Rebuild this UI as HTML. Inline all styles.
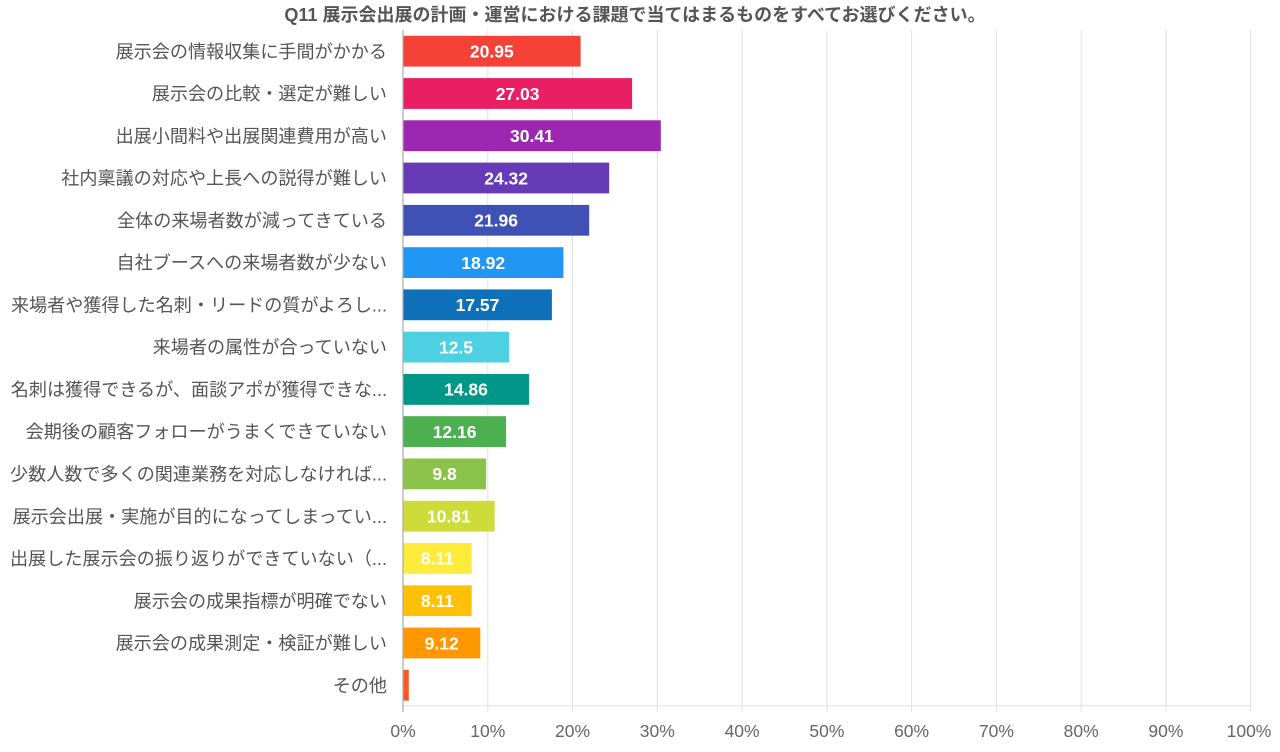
<!DOCTYPE html>
<html><head><meta charset="utf-8"><style>
html,body{margin:0;padding:0;background:#fff;}
svg{display:block;}
.lab{font-family:"Liberation Sans","Noto Sans CJK JP",sans-serif;font-size:18.1px;fill:#555;}
.val{font-family:"Liberation Sans",sans-serif;font-size:17.5px;font-weight:bold;fill:#fff;}
.tick{font-family:"Liberation Sans",sans-serif;font-size:17.5px;fill:#666;}
.title{font-family:"Liberation Sans","Noto Sans CJK JP",sans-serif;font-size:18px;font-weight:bold;fill:#555;}
</style></head><body>
<svg width="1280" height="752" viewBox="0 0 1280 752" xmlns="http://www.w3.org/2000/svg">
<rect width="1280" height="752" fill="#fff"/>
<text class="title" x="635" y="21" text-anchor="middle">Q11 展示会出展の計画・運営における課題で当てはまるものをすべてお選びください。</text>
<g stroke="#e0e0e0" stroke-width="1">
<line x1="487.8" y1="30" x2="487.8" y2="712"/>
<line x1="572.5" y1="30" x2="572.5" y2="712"/>
<line x1="657.3" y1="30" x2="657.3" y2="712"/>
<line x1="742.1" y1="30" x2="742.1" y2="712"/>
<line x1="826.9" y1="30" x2="826.9" y2="712"/>
<line x1="911.6" y1="30" x2="911.6" y2="712"/>
<line x1="996.4" y1="30" x2="996.4" y2="712"/>
<line x1="1081.2" y1="30" x2="1081.2" y2="712"/>
<line x1="1165.9" y1="30" x2="1165.9" y2="712"/>
<line x1="1250.7" y1="30" x2="1250.7" y2="712"/>
<line x1="403" y1="705.8" x2="1250.7" y2="705.8"/>
</g>
<g>
<rect x="403" y="35.8" width="177.6" height="30.8" fill="#F44336"/>
<rect x="403" y="78.1" width="229.1" height="30.8" fill="#E91E63"/>
<rect x="403" y="120.3" width="257.8" height="30.8" fill="#9C27B0"/>
<rect x="403" y="162.6" width="206.2" height="30.8" fill="#673AB7"/>
<rect x="403" y="204.9" width="186.2" height="30.8" fill="#3F51B5"/>
<rect x="403" y="247.2" width="160.4" height="30.8" fill="#2196F3"/>
<rect x="403" y="289.4" width="148.9" height="30.8" fill="#0D70B9"/>
<rect x="403" y="331.7" width="106.0" height="30.8" fill="#4DD0E1"/>
<rect x="403" y="374.0" width="126.0" height="30.8" fill="#009688"/>
<rect x="403" y="416.2" width="103.1" height="30.8" fill="#4CAF50"/>
<rect x="403" y="458.5" width="83.1" height="30.8" fill="#8BC34A"/>
<rect x="403" y="500.8" width="91.6" height="30.8" fill="#CDDC39"/>
<rect x="403" y="543.0" width="68.7" height="30.8" fill="#FFEB3B"/>
<rect x="403" y="585.3" width="68.7" height="30.8" fill="#FFC107"/>
<rect x="403" y="627.6" width="77.3" height="30.8" fill="#FF9800"/>
<rect x="403" y="669.9" width="5.8" height="30.8" fill="#FF5722"/>
</g>
<line x1="403" y1="30" x2="403" y2="712" stroke="#aaa" stroke-width="1.2"/>
<g class="val" text-anchor="middle">
<text x="491.8" y="57.5">20.95</text>
<text x="517.6" y="99.8">27.03</text>
<text x="531.9" y="142.0">30.41</text>
<text x="506.1" y="184.3">24.32</text>
<text x="496.1" y="226.6">21.96</text>
<text x="483.2" y="268.9">18.92</text>
<text x="477.5" y="311.1">17.57</text>
<text x="456.0" y="353.4">12.5</text>
<text x="466.0" y="395.7">14.86</text>
<text x="454.6" y="437.9">12.16</text>
<text x="444.6" y="480.2">9.8</text>
<text x="448.8" y="522.5">10.81</text>
<text x="437.4" y="564.7">8.11</text>
<text x="437.4" y="607.0">8.11</text>
<text x="441.7" y="649.3">9.12</text>
</g>
<g class="lab" text-anchor="end">
<text x="387" y="57.8">展示会の情報収集に手間がかかる</text>
<text x="387" y="100.1">展示会の比較・選定が難しい</text>
<text x="387" y="142.3">出展小間料や出展関連費用が高い</text>
<text x="387" y="184.6">社内稟議の対応や上長への説得が難しい</text>
<text x="387" y="226.9">全体の来場者数が減ってきている</text>
<text x="387" y="269.2">自社ブースへの来場者数が少ない</text>
<text x="387" y="311.4">来場者や獲得した名刺・リードの質がよろし...</text>
<text x="387" y="353.7">来場者の属性が合っていない</text>
<text x="387" y="396.0">名刺は獲得できるが、面談アポが獲得できな...</text>
<text x="387" y="438.2">会期後の顧客フォローがうまくできていない</text>
<text x="387" y="480.5">少数人数で多くの関連業務を対応しなければ...</text>
<text x="387" y="522.8">展示会出展・実施が目的になってしまってい...</text>
<text x="387" y="565.0">出展した展示会の振り返りができていない（...</text>
<text x="387" y="607.3">展示会の成果指標が明確でない</text>
<text x="387" y="649.6">展示会の成果測定・検証が難しい</text>
<text x="387" y="691.9">その他</text>
</g>
<g class="tick" text-anchor="middle">
<text x="403" y="737">0%</text>
<text x="487.8" y="737">10%</text>
<text x="572.5" y="737">20%</text>
<text x="657.3" y="737">30%</text>
<text x="742.1" y="737">40%</text>
<text x="826.9" y="737">50%</text>
<text x="911.6" y="737">60%</text>
<text x="996.4" y="737">70%</text>
<text x="1081.2" y="737">80%</text>
<text x="1165.9" y="737">90%</text>
<text x="1249" y="737">100%</text>
</g>
</svg>
</body></html>
